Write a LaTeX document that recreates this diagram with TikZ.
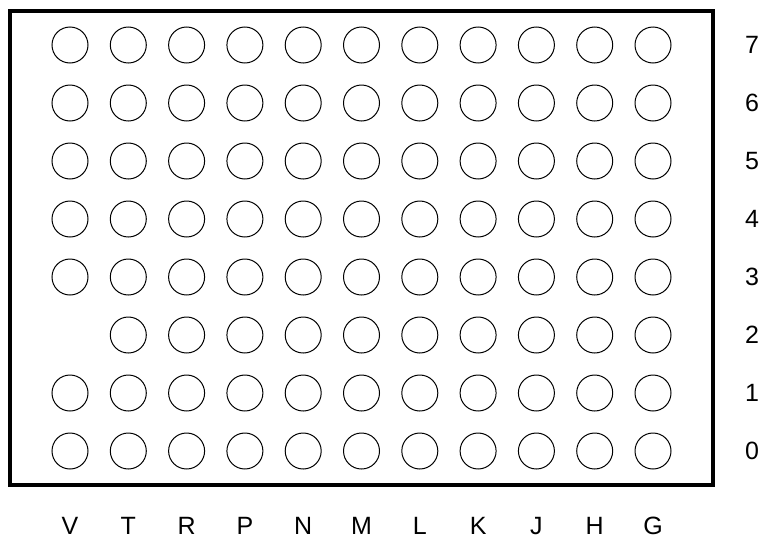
\documentclass[tikz,border=0pt]{standalone}
\usepackage{fontspec}
\setmainfont{Liberation Sans}
\usetikzlibrary{positioning}
\tikzset{
    boxnode/.style = {draw, rectangle, line width=4pt, inner sep=0pt},
    padnode/.style = {draw, circle, line width=1pt, minimum size=36pt, inner sep=0pt},
    textnode/.style = {draw=none, fill=none, inner sep=0pt, font=\fontsize{25}{30}\selectfont}
}
\begin{document}
\begin{tikzpicture}[x=1pt, y=1pt]
    \useasboundingbox (0,0) rectangle (766,-544);

    \node [name=pkg, boxnode, minimum width=703pt, minimum height=474pt] at (361.5,-247.5) {};

    % pads, one column per letter
    \foreach \col [count=\i from 0] in {V,T,R,P,N,M,L,K,J,H,G} {
        \node [name=lbl\col, textnode] at (70+58.3*\i,-526) {\col};
        \foreach \row in {0,...,7} {
            \ifnum\i=0 \ifnum\row=2 \else
                \node [name=pad\col\row, padnode] at (70+58.3*\i,-451+58*\row) {};
            \fi \else
                \node [name=pad\col\row, padnode] at (70+58.3*\i,-451+58*\row) {};
            \fi
        }
    }

    % row numbers
    \foreach \row in {0,...,7}
        \node [name=num\row, textnode] at (752,-451+58*\row) {\row};
\end{tikzpicture}
\end{document}
